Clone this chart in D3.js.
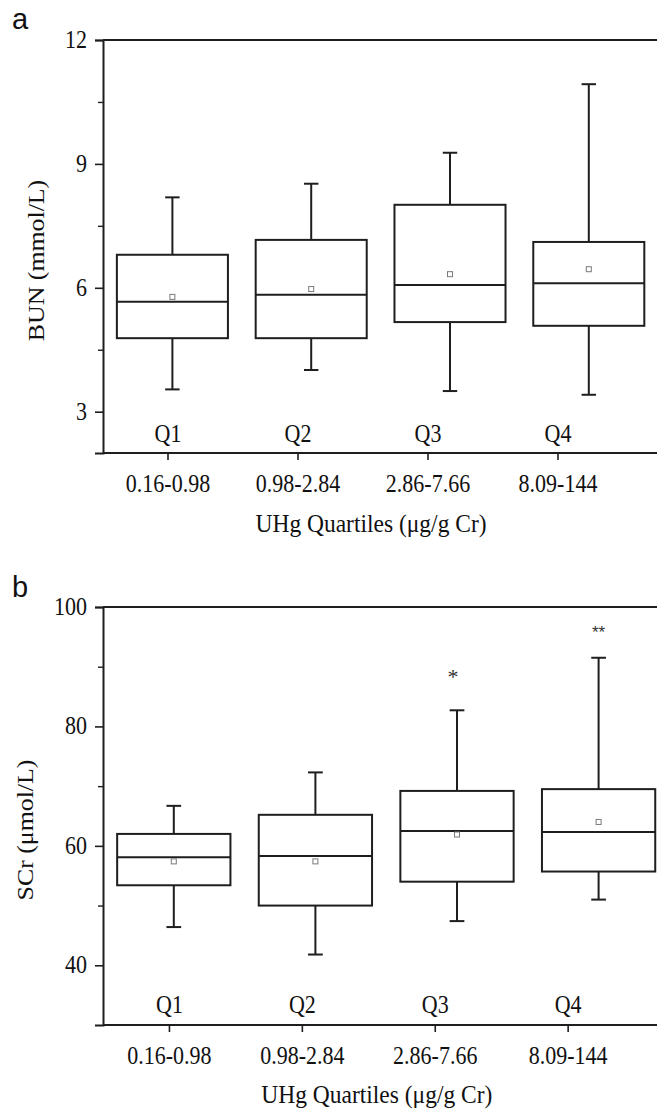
<!DOCTYPE html>
<html>
<head>
<meta charset="utf-8">
<script src="https://cdn.jsdelivr.net/npm/d3@7"></script>
<style>
  html, body { margin: 0; padding: 0; background: #fff; }
  svg { display: block; }
</style>
</head>
<body>
<svg id="chart" width="657" height="1109"></svg>
<script>
// ---------------- data ----------------
const categories = ["Q1", "Q2", "Q3", "Q4"];
const rangeLabels = ["0.16-0.98", "0.98-2.84", "2.86-7.66", "8.09-144"];

// panel a: BUN (mmol/L)
const bunWhiskerLow  = [3.54, 4.01, 3.50, 3.41];
const bunQ1          = [4.78, 4.78, 5.17, 5.08];
const bunMedian      = [5.66, 5.83, 6.07, 6.11];
const bunQ3          = [6.80, 7.16, 8.01, 7.11];
const bunWhiskerHigh = [8.19, 8.52, 9.27, 10.93];
const bunMean        = [5.78, 5.97, 6.33, 6.45];
const bunTicks       = [3, 6, 9, 12];
const bunMinorTicks  = [4.5, 7.5, 10.5];

// panel b: SCr (µmol/L)
const scrWhiskerLow  = [46.4, 41.8, 47.4, 51.0];
const scrQ1          = [53.4, 50.0, 54.0, 55.7];
const scrMedian      = [58.1, 58.3, 62.5, 62.3];
const scrQ3          = [62.0, 65.2, 69.2, 69.5];
const scrWhiskerHigh = [66.7, 72.3, 82.7, 91.5];
const scrMean        = [57.4, 57.4, 61.9, 64.0];
const scrSignificance = ["", "", "*", "**"];
const scrTicks       = [40, 60, 80, 100];
const scrMinorTicks  = [50, 70, 90];

const xTitle = "UHg Quartiles (\u03bcg/g Cr)";

// ---------------- drawing ----------------
const svg = d3.select("#chart");
const SERIF = "'Liberation Serif', 'Times New Roman', serif";
const SANS = "'Liberation Sans', Arial, sans-serif";
const INK = "#1e1e1e";
const STRETCH = 1.1; // vertical stretch of the reference's text

function panel(cfg) {
  const g = svg.append("g");
  const y = d3.scaleLinear().domain(cfg.domain).range(cfg.yRange);
  const xBox = d3.scaleBand().domain(categories).range(cfg.boxRange)
    .paddingInner(0.2).paddingOuter(0.1);
  const xTick = d3.scaleBand().domain(categories).range(cfg.tickRange);
  const tickX = c => xTick(c) + xTick.bandwidth() / 2;
  const bw = xBox.bandwidth();
  const capW = bw * 0.13;

  const data = categories.map((c, i) => ({
    c, lo: cfg.lo[i], q1: cfg.q1[i], med: cfg.med[i], q3: cfg.q3[i],
    hi: cfg.hi[i], mean: cfg.mean[i], sig: cfg.sig ? cfg.sig[i] : ""
  }));

  const left = cfg.boxRange[0];
  const yBottom = cfg.yRange[0], yTop = cfg.yRange[1];

  // frame: left axis, bottom axis, top border
  g.append("line").attr("x1", left).attr("x2", 657).attr("y1", yTop).attr("y2", yTop)
    .attr("stroke", INK).attr("stroke-width", 2);
  g.append("line").attr("x1", left).attr("x2", 657).attr("y1", yBottom).attr("y2", yBottom)
    .attr("stroke", INK).attr("stroke-width", 2);

  // y axis
  const yAxis = d3.axisLeft(y).tickValues(cfg.ticks).tickSize(8).tickPadding(8)
    .tickFormat(d3.format("d"));
  const ya = g.append("g").attr("transform", `translate(${left},0)`).call(yAxis);
  ya.select(".domain").attr("stroke", INK).attr("stroke-width", 2);
  ya.selectAll(".tick line").attr("stroke", INK).attr("stroke-width", 1.6);
  ya.selectAll(".tick text").attr("font-family", SERIF).attr("font-size", 22)
    .attr("fill", "#111").attr("dy", null).attr("y", 0)
    .attr("transform", `translate(0,7.5) scale(1,${STRETCH})`);
  const yMinor = d3.axisLeft(y).tickValues(cfg.minor).tickSize(5).tickFormat("");
  const ym = g.append("g").attr("transform", `translate(${left},0)`).call(yMinor);
  ym.select(".domain").remove();
  ym.selectAll(".tick line").attr("stroke", INK).attr("stroke-width", 1.4);

  // x axis ticks
  const xa = g.append("g").attr("transform", `translate(0,${yBottom})`)
    .call(d3.axisBottom(xTick).tickSize(7).tickFormat(""));
  xa.select(".domain").remove();
  xa.selectAll(".tick line").attr("stroke", INK).attr("stroke-width", 1.6);

  // range labels under ticks
  g.selectAll(".rl").data(categories).join("text")
    .attr("transform", (c) => `translate(${tickX(c)},${yBottom + cfg.rangeDy}) scale(1,${STRETCH})`)
    .attr("text-anchor", "middle").attr("font-family", SERIF).attr("font-size", 22)
    .attr("fill", "#111").text((c, i) => rangeLabels[i]);

  // Q labels inside plot
  g.selectAll(".ql").data(categories).join("text")
    .attr("transform", (c) => `translate(${tickX(c)},${yBottom - cfg.qDy}) scale(1,${STRETCH})`)
    .attr("text-anchor", "middle").attr("font-family", SERIF).attr("font-size", 22)
    .attr("fill", "#111").text(c => c);

  // x title
  g.append("text")
    .attr("transform", `translate(${(cfg.tickRange[0] + cfg.tickRange[1]) / 2 + 8},${yBottom + cfg.titleDy}) scale(1,${STRETCH})`)
    .attr("text-anchor", "middle").attr("font-family", SERIF).attr("font-size", 23.5)
    .attr("fill", "#111").text(xTitle);

  // y title
  g.append("text")
    .attr("transform", `translate(${cfg.yTitleX},${(yTop + yBottom) / 2 + 14}) rotate(-90) scale(${STRETCH},1)`)
    .attr("text-anchor", "middle").attr("font-family", SERIF).attr("font-size", 23.5)
    .attr("fill", "#111").text(cfg.yTitle);

  // panel letter
  g.append("text").attr("x", 12).attr("y", cfg.letterY)
    .attr("font-family", SANS).attr("font-size", 29).attr("fill", "#111").text(cfg.letter);

  // boxes
  const b = g.selectAll(".box").data(data).join("g")
    .attr("transform", d => `translate(${xBox(d.c) + bw / 2},0)`);
  const stroke = sel => sel.attr("stroke", INK).attr("stroke-width", 2).attr("fill", "none");
  b.append("line").attr("x1", 0).attr("x2", 0).attr("y1", d => y(d.q3)).attr("y2", d => y(d.hi)).call(stroke);
  b.append("line").attr("x1", 0).attr("x2", 0).attr("y1", d => y(d.q1)).attr("y2", d => y(d.lo)).call(stroke);
  b.append("line").attr("x1", -capW / 2).attr("x2", capW / 2).attr("y1", d => y(d.hi)).attr("y2", d => y(d.hi)).call(stroke);
  b.append("line").attr("x1", -capW / 2).attr("x2", capW / 2).attr("y1", d => y(d.lo)).attr("y2", d => y(d.lo)).call(stroke);
  b.append("rect").attr("x", -bw / 2).attr("width", bw)
    .attr("y", d => y(d.q3)).attr("height", d => y(d.q1) - y(d.q3)).call(stroke);
  b.append("line").attr("x1", -bw / 2).attr("x2", bw / 2).attr("y1", d => y(d.med)).attr("y2", d => y(d.med)).call(stroke);
  b.append("rect").attr("x", -2.5).attr("width", 5)
    .attr("y", d => y(d.mean) - 2.5).attr("height", 5)
    .attr("fill", "#fff").attr("stroke", "#7a7a7a").attr("stroke-width", 1);

  // significance marks
  b.filter(d => d.sig).append("text")
    .attr("x", d => d.sig.length > 1 ? 0 : -4).attr("y", d => y(d.hi) - (d.sig.length > 1 ? 20 : 26))
    .attr("text-anchor", "middle")
    .attr("font-family", d => d.sig.length > 1 ? SANS : SERIF)
    .attr("font-size", d => d.sig.length > 1 ? 17 : 22)
    .attr("fill", "#333").text(d => d.sig);
}

panel({
  letter: "a", letterY: 29,
  domain: [2, 12], yRange: [453, 40],
  boxRange: [103, 658.2], tickRange: [103, 623],
  ticks: bunTicks, minor: bunMinorTicks,
  lo: bunWhiskerLow, q1: bunQ1, med: bunMedian, q3: bunQ3, hi: bunWhiskerHigh, mean: bunMean,
  yTitle: "BUN (mmol/L)", yTitleX: 43.5,
  qDy: 11, rangeDy: 38.7, titleDy: 78.5
});

panel({
  letter: "b", letterY: 597,
  domain: [30, 100], yRange: [1025, 607],
  boxRange: [103, 669.4], tickRange: [103, 634.6],
  ticks: scrTicks, minor: scrMinorTicks,
  lo: scrWhiskerLow, q1: scrQ1, med: scrMedian, q3: scrQ3, hi: scrWhiskerHigh, mean: scrMean,
  sig: scrSignificance,
  yTitle: "SCr (\u03bcmol/L)", yTitleX: 32.5,
  qDy: 12, rangeDy: 39, titleDy: 77.7
});
</script>
</body>
</html>
